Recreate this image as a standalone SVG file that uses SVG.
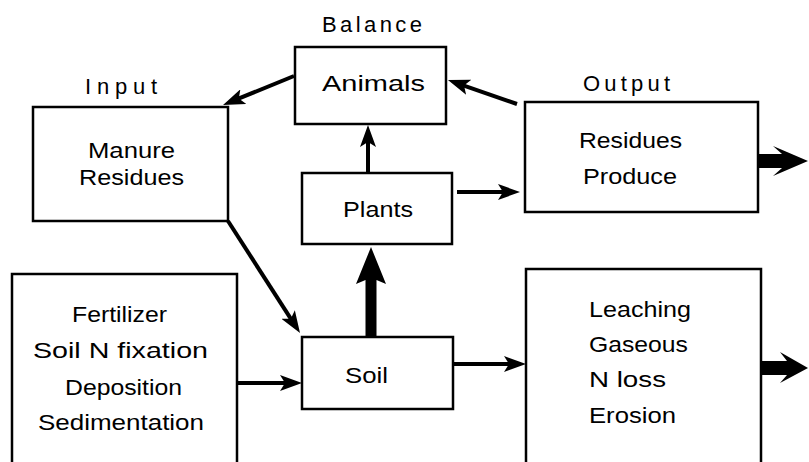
<svg xmlns="http://www.w3.org/2000/svg" width="809" height="462" viewBox="0 0 809 462">
<style>
.box{fill:#fff;stroke:#000;stroke-width:2.5}
.t{font-family:"Liberation Sans",Arial,sans-serif;font-size:22px;fill:#000}
.c{stroke:#000;stroke-width:4;fill:none}
.big{fill:#000;stroke:none}
</style>
<defs>
<marker id="ah" markerUnits="userSpaceOnUse" markerWidth="22" markerHeight="16" refX="12" refY="8" orient="auto" viewBox="0 0 22 16">
<path d="M0,0 L22,8 L0,16 L5,8 Z" fill="#000"/>
</marker>
</defs>
<rect width="809" height="462" fill="#fff"/>
<text class="t" x="322" y="32" textLength="100">Balance</text>
<text class="t" x="85" y="94" textLength="72">Input</text>
<text class="t" x="583" y="91" textLength="87">Output</text>

<g id="animals">
<rect class="box" x="295" y="47" width="151" height="77"/>
<text class="t" x="322" y="91" textLength="103" lengthAdjust="spacingAndGlyphs">Animals</text>
</g>
<g id="manure">
<rect class="box" x="33" y="107" width="195" height="114"/>
<text class="t" x="88" y="158" textLength="87" lengthAdjust="spacingAndGlyphs">Manure</text>
<text class="t" x="79" y="185" textLength="105" lengthAdjust="spacingAndGlyphs">Residues</text>
</g>
<g id="plants">
<rect class="box" x="302" y="173" width="150" height="71"/>
<text class="t" x="343" y="217" textLength="70" lengthAdjust="spacingAndGlyphs">Plants</text>
</g>
<g id="output">
<rect class="box" x="525" y="102" width="233" height="110"/>
<text class="t" x="579" y="148" textLength="103" lengthAdjust="spacingAndGlyphs">Residues</text>
<text class="t" x="583" y="184" textLength="94" lengthAdjust="spacingAndGlyphs">Produce</text>
</g>
<g id="soil">
<rect class="box" x="302" y="337" width="151" height="72"/>
<text class="t" x="345" y="383" textLength="43" lengthAdjust="spacingAndGlyphs">Soil</text>
</g>
<g id="fertilizer">
<path class="box" d="M12,463 V274 H237 V463"/>
<text class="t" x="72" y="322" textLength="95" lengthAdjust="spacingAndGlyphs">Fertilizer</text>
<text class="t" x="33" y="358" textLength="175" lengthAdjust="spacingAndGlyphs">Soil N fixation</text>
<text class="t" x="65" y="395" textLength="117" lengthAdjust="spacingAndGlyphs">Deposition</text>
<text class="t" x="38" y="430" textLength="166" lengthAdjust="spacingAndGlyphs">Sedimentation</text>
</g>
<g id="losses">
<path class="box" d="M526,463 V269 H761 V463"/>
<text class="t" x="589" y="317" textLength="102" lengthAdjust="spacingAndGlyphs">Leaching</text>
<text class="t" x="589" y="352" textLength="99" lengthAdjust="spacingAndGlyphs">Gaseous</text>
<text class="t" x="589" y="387" textLength="77" lengthAdjust="spacingAndGlyphs">N loss</text>
<text class="t" x="589" y="423" textLength="87" lengthAdjust="spacingAndGlyphs">Erosion</text>
</g>

<g id="connectors">
<line class="c" x1="294" y1="76" x2="232.3" y2="101.2" marker-end="url(#ah)"/>
<line class="c" x1="517" y1="104" x2="457.4" y2="83.3" marker-end="url(#ah)"/>
<line class="c" x1="368" y1="173" x2="368" y2="135" stroke-width="5" marker-end="url(#ah)"/>
<line class="c" x1="457" y1="192" x2="510" y2="192" marker-end="url(#ah)"/>
<line class="c" x1="228" y1="221" x2="294.6" y2="324.6" marker-end="url(#ah)"/>
<line class="c" x1="237" y1="383" x2="292" y2="383" marker-end="url(#ah)"/>
<line class="c" x1="453" y1="364" x2="516" y2="364" marker-end="url(#ah)"/>
<path class="big" d="M365.5,337 V280 L356,284 L371,247 L386,284 L376.5,280 V337 Z"/>
<path class="big" d="M758,154 H782 L773,146 L808,161 L773,176 L782,168 H758 Z"/>
<path class="big" d="M761,361 H787 L780,352 L808,368 L780,383 L787,375 H761 Z"/>
</g>
</svg>
